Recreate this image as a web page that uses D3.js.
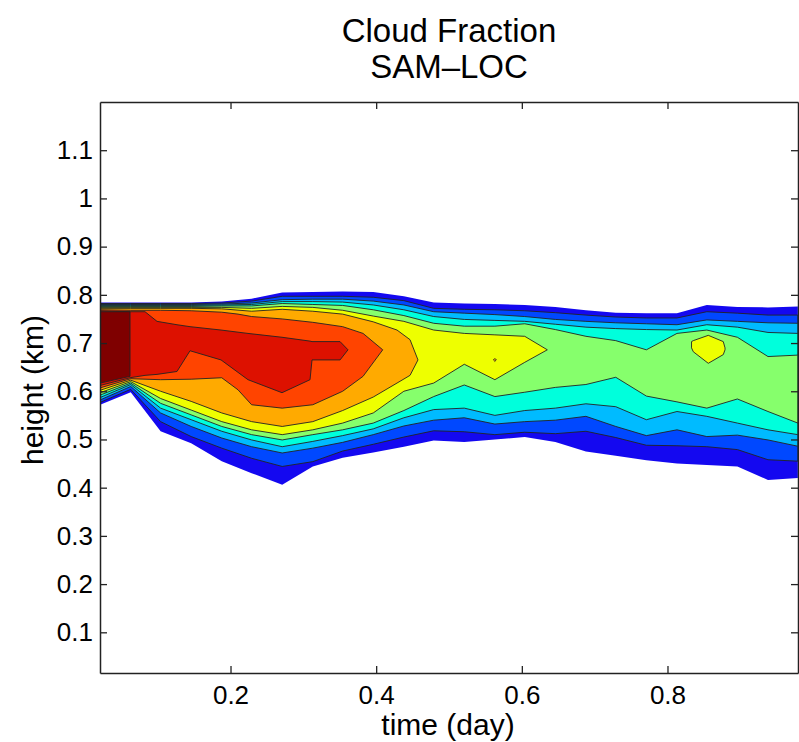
<!DOCTYPE html>
<html>
<head>
<meta charset="utf-8">
<script src="https://cdn.jsdelivr.net/npm/d3@7/dist/d3.min.js"></script>
<style>
  html, body { margin: 0; padding: 0; background: #fff; }
  svg { display: block; font-family: "Liberation Sans", Arial, Helvetica, sans-serif; }
</style>
</head>
<body>
<svg id="chart" width="799" height="742"></svg>
<script>
// ---------------- DATA ----------------
// hourly output times (day)
const times = [0.021,0.063,0.104,0.146,0.188,0.229,0.271,0.313,0.354,0.396,0.438,0.479,
               0.521,0.563,0.604,0.646,0.688,0.729,0.771,0.813,0.854,0.896,0.938,0.979];

// contour-level boundaries (km): lower (bot) and upper (top) edge
// of the region where cloud fraction exceeds each level, for the levels that span all times
const level1Top = [0.784,0.784,0.784,0.784,0.786,0.792,0.805,0.806,0.807,0.806,0.797,0.784,0.782,0.781,0.779,0.775,0.768,0.763,0.762,0.762,0.779,0.775,0.774,0.776];
const level1Bot = [0.572,0.598,0.517,0.492,0.455,0.430,0.406,0.444,0.462,0.473,0.485,0.498,0.495,0.500,0.505,0.495,0.475,0.466,0.457,0.450,0.447,0.444,0.416,0.420];
const level2Top = [0.782,0.782,0.782,0.782,0.783,0.787,0.797,0.797,0.797,0.795,0.788,0.772,0.770,0.769,0.767,0.763,0.758,0.754,0.752,0.752,0.765,0.762,0.758,0.758];
const level2Bot = [0.577,0.604,0.537,0.506,0.482,0.461,0.444,0.454,0.476,0.490,0.505,0.518,0.516,0.510,0.515,0.512,0.517,0.504,0.488,0.487,0.485,0.479,0.458,0.455];
const level3Top = [0.780,0.780,0.780,0.780,0.781,0.783,0.790,0.791,0.791,0.787,0.779,0.765,0.762,0.759,0.755,0.749,0.745,0.742,0.740,0.738,0.748,0.745,0.742,0.741];
const level3Bot = [0.582,0.610,0.555,0.527,0.503,0.485,0.472,0.482,0.494,0.510,0.528,0.540,0.545,0.532,0.537,0.540,0.548,0.527,0.508,0.520,0.506,0.509,0.499,0.486];
const level4Top = [0.778,0.778,0.778,0.778,0.779,0.780,0.786,0.786,0.785,0.779,0.769,0.755,0.749,0.747,0.745,0.739,0.733,0.730,0.728,0.727,0.738,0.733,0.722,0.720];
const level4Bot = [0.587,0.614,0.565,0.541,0.517,0.499,0.485,0.496,0.508,0.522,0.545,0.562,0.565,0.550,0.560,0.565,0.574,0.568,0.541,0.558,0.548,0.534,0.520,0.510];
const level5Top = [0.776,0.776,0.776,0.776,0.777,0.777,0.782,0.780,0.778,0.769,0.757,0.741,0.735,0.735,0.740,0.728,0.714,0.705,0.686,0.720,0.727,0.712,0.672,0.675];
const level5Bot = [0.592,0.617,0.575,0.551,0.527,0.510,0.499,0.510,0.520,0.534,0.560,0.589,0.613,0.589,0.598,0.608,0.614,0.629,0.590,0.578,0.565,0.584,0.558,0.534];

// higher levels: [time, bottom, top] (end where the contour closes)
const level6 = [[0.021,0.597,0.774],[0.063,0.620,0.774],[0.104,0.585,0.774],[0.146,0.561,0.774],
  [0.188,0.537,0.774],[0.229,0.520,0.772],[0.271,0.510,0.776],[0.313,0.520,0.774],[0.354,0.534,0.768],
  [0.396,0.555,0.756],[0.438,0.600,0.745],[0.479,0.617,0.727],[0.521,0.656,0.720],[0.563,0.624,0.717],
  [0.604,0.660,0.714],[0.635,0.686,0.686]];
const level6Island = [[0.833,0.690,0.703],[0.8354,0.682,0.705],[0.856,0.658,0.716],[0.8766,0.676,0.703],[0.879,0.686,0.690]];
const level7 = [[0.021,0.602,0.772],[0.063,0.623,0.772],[0.104,0.600,0.772],[0.146,0.579,0.772],
  [0.188,0.555,0.771],[0.229,0.537,0.766],[0.271,0.527,0.770],[0.313,0.537,0.766],[0.354,0.560,0.760],
  [0.396,0.588,0.744],[0.4286,0.617,0.727],[0.4465,0.633,0.707],[0.4574,0.665,0.665]];
const level7Island = [[0.561,0.665,0.665],[0.563,0.662,0.668],[0.565,0.665,0.665]];
const level8 = [[0.021,0.607,0.769],[0.063,0.626,0.768],[0.104,0.624,0.768],[0.146,0.625,0.767],
  [0.188,0.628,0.764],[0.2103,0.603,0.760],[0.229,0.572,0.755],[0.271,0.565,0.750],[0.313,0.572,0.743],
  [0.354,0.600,0.734],[0.382,0.631,0.720],[0.409,0.686,0.686]];
const level9 = [[0.021,0.612,0.767],[0.062,0.628,0.765],[0.0826,0.633,0.765],[0.0991,0.635,0.745],
  [0.1265,0.641,0.738],[0.1444,0.684,0.734],[0.187,0.665,0.727],[0.224,0.624,0.720],[0.2707,0.597,0.712],
  [0.3092,0.624,0.704],[0.3119,0.665,0.703],[0.3504,0.665,0.703],[0.3613,0.686,0.686]];
const level10 = [[0.021,0.617,0.765],[0.062,0.631,0.765]];

const levelColors = ["#1408f0","#0048ff","#00bbff","#00ffdc","#86ff6c","#eeff00","#ffaa00","#ff4400","#dd1100","#7f0000"];

const xTicks = [0.2,0.4,0.6,0.8];
const yTicks = [0.1,0.2,0.3,0.4,0.5,0.6,0.7,0.8,0.9,1,1.1];

// ---------------- CHART ----------------
const svg = d3.select("#chart");
const L = 100, R = 798, T = 102, B = 673;
const x = d3.scaleLinear().domain([0.0208, 0.9792]).range([L, R]);
const y = d3.scaleLinear().domain([0.0156, 1.2]).range([B, T]);

svg.append("defs").append("clipPath").attr("id","clip")
  .append("rect").attr("x",L).attr("y",T).attr("width",R-L).attr("height",B-T);

const area = d3.area().x(d => x(d[0])).y0(d => y(d[1])).y1(d => y(d[2]));
const zipLevel = (bot, top) => times.map((t,i) => [t, bot[i], top[i]]);

const shapes = [
  {lev:0, d: zipLevel(level1Bot, level1Top)},
  {lev:1, d: zipLevel(level2Bot, level2Top)},
  {lev:2, d: zipLevel(level3Bot, level3Top)},
  {lev:3, d: zipLevel(level4Bot, level4Top)},
  {lev:4, d: zipLevel(level5Bot, level5Top)},
  {lev:5, d: level6},
  {lev:5, d: level6Island},
  {lev:6, d: level7},
  {lev:6, d: level7Island},
  {lev:7, d: level8},
  {lev:8, d: level9},
  {lev:9, d: level10}
];

const g = svg.append("g").attr("clip-path","url(#clip)");
g.selectAll("path.band").data(shapes).join("path")
  .attr("class","band")
  .attr("d", s => area(s.d))
  .attr("fill", s => levelColors[s.lev])
  .attr("stroke", s => s.lev === 0 ? "none" : "#222")
  .attr("stroke-width", 0.9)
  .attr("stroke-linejoin","round");

// axes
const fmt = d3.format("~g");
const axB = svg.append("g").attr("transform",`translate(0,${B})`)
  .call(d3.axisBottom(x).tickValues(xTicks).tickFormat(fmt).tickSizeInner(-7).tickSizeOuter(0).tickPadding(13));
const axT = svg.append("g").attr("transform",`translate(0,${T})`)
  .call(d3.axisTop(x).tickValues(xTicks).tickFormat("").tickSizeInner(-7).tickSizeOuter(0));
const axLf = svg.append("g").attr("transform",`translate(${L},0)`)
  .call(d3.axisLeft(y).tickValues(yTicks).tickFormat(fmt).tickSizeInner(-7).tickSizeOuter(0).tickPadding(7));
const axRt = svg.append("g").attr("transform",`translate(${R},0)`)
  .call(d3.axisRight(y).tickValues(yTicks).tickFormat("").tickSizeInner(-7).tickSizeOuter(0));

[axB, axT, axLf, axRt].forEach(a => {
  a.select(".domain").attr("stroke","#222").attr("stroke-width",1.5);
  a.selectAll(".tick line").attr("stroke","#222").attr("stroke-width",1.3);
  a.selectAll(".tick text").attr("fill","#000").style("font-size","26px")
    .style("font-family",'"Liberation Sans", Arial, sans-serif');
});

// titles
svg.append("text").attr("x",449).attr("y",42).attr("text-anchor","middle")
  .style("font-size","33px").attr("fill","#000").text("Cloud Fraction");
svg.append("text").attr("x",449).attr("y",78).attr("text-anchor","middle")
  .style("font-size","33px").attr("fill","#000").text("SAM–LOC");

svg.append("text").attr("x",448).attr("y",735).attr("text-anchor","middle")
  .style("font-size","30px").attr("fill","#000").text("time (day)");
svg.append("text").attr("transform","translate(43,390) rotate(-90)").attr("text-anchor","middle")
  .style("font-size","30px").attr("fill","#000").text("height (km)");
</script>
</body>
</html>
